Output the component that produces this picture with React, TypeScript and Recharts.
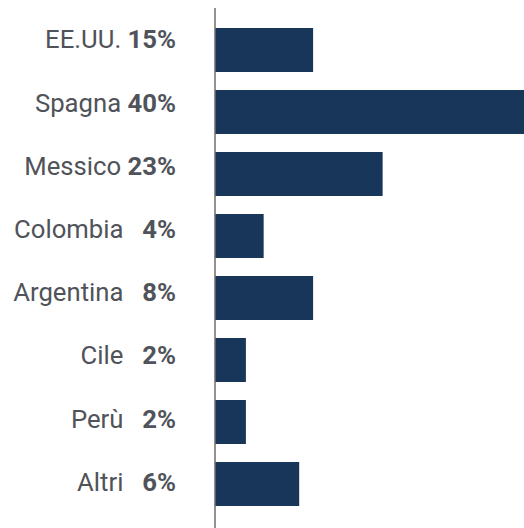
import React from "react";
import { BarChart, Bar, XAxis, YAxis } from "recharts";

const countries = ["EE.UU.", "Spagna", "Messico", "Colombia", "Argentina", "Cile", "Perù", "Altri"];
const shareLabels = ["15%", "40%", "23%", "4%", "8%", "2%", "2%", "6%"];
const barValues = [12.7, 40, 21.7, 6.3, 12.7, 4.0, 4.0, 10.9];

const data = countries.map((name, i) => ({ name, label: shareLabels[i], value: barValues[i] }));

const TEXT = "#505359";

const Tick = (props: any) => {
  const { x, y, payload, index } = props;
  const i = index ?? payload.index ?? 0;
  const label = shareLabels[i] ?? "";
  const short = label.length < 3;
  const dy = -1.7 + i * 1.2;
  return (
    <text
      x={x - 31}
      y={y + dy}
      textAnchor="end"
      fontFamily="Roboto"
      fontSize={25.7}
      fill={TEXT}
      style={{ whiteSpace: "pre" }}
    >
      <tspan>{payload.value + " "}</tspan>
      {short ? <tspan fontWeight={700}>{"\u2007"}</tspan> : null}
      <tspan fontWeight={700} dx={short ? -2 : 0}>{label}</tspan>
    </text>
  );
};

export default function App() {
  return (
    <div style={{ position: "absolute", left: 8, top: 8, width: 516, height: 520, overflow: "hidden" }}>
      <BarChart
        width={516}
        height={520}
        data={data}
        layout="vertical"
        margin={{ top: 0, right: 0, bottom: 0, left: 0 }}
        barSize={44}
        style={{ maxWidth: "none" }}
      >
        <XAxis type="number" domain={[0, 40]} hide />
        <YAxis
          type="category"
          dataKey="name"
          width={207}
          axisLine={{ stroke: "#6e6e6e", strokeWidth: 1.5 }}
          tickLine={false}
          tick={<Tick />}
          padding={{ top: 11, bottom: 13 }}
          interval={0}
        />
        <Bar dataKey="value" fill="#18355a" isAnimationActive={false} />
      </BarChart>
    </div>
  );
}
